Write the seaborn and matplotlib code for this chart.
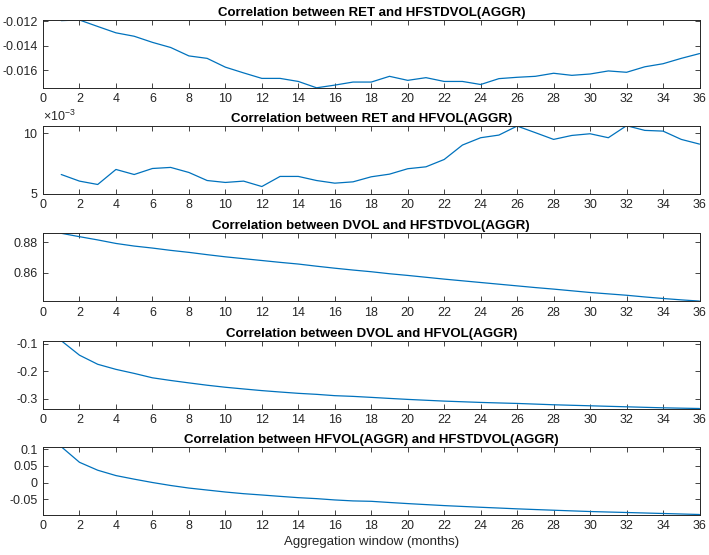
import matplotlib
matplotlib.use("Agg")
import matplotlib.pyplot as plt
import pandas as pd
import seaborn as sns
from matplotlib.ticker import FixedLocator, FuncFormatter

# Aggregation window (months)
months = list(range(1, 37))

# Correlation between RET and HFSTDVOL(AGGR)
ret_hfstdvol = [-0.01194, -0.01189, -0.01242, -0.01294, -0.01322, -0.01372,
                -0.01414, -0.01483, -0.01503, -0.01575, -0.01622, -0.01667,
                -0.01667, -0.01692, -0.01744, -0.01722, -0.01697, -0.01697,
                -0.01650, -0.01683, -0.01661, -0.01692, -0.01692, -0.01717,
                -0.01669, -0.01658, -0.01650, -0.01625, -0.01642, -0.01631,
                -0.01606, -0.01617, -0.01572, -0.01547, -0.01503, -0.01464]

# Correlation between RET and HFVOL(AGGR)
ret_hfvol = [0.00658, 0.00603, 0.00575, 0.00700, 0.00658, 0.00708,
             0.00717, 0.00675, 0.00608, 0.00592, 0.00603, 0.00558,
             0.00642, 0.00642, 0.00608, 0.00586, 0.00597, 0.00639,
             0.00661, 0.00706, 0.00722, 0.00783, 0.00903, 0.00964,
             0.00986, 0.01061, 0.01006, 0.00950, 0.00983, 0.00997,
             0.00964, 0.01064, 0.01025, 0.01019, 0.00950, 0.00911]

# Correlation between DVOL and HFSTDVOL(AGGR)
dvol_hfstdvol = [0.8857, 0.8835, 0.8814, 0.8791, 0.8774, 0.8761,
                 0.8746, 0.8733, 0.8718, 0.8704, 0.8692, 0.8680,
                 0.8668, 0.8657, 0.8643, 0.8630, 0.8618, 0.8607,
                 0.8594, 0.8583, 0.8571, 0.8559, 0.8548, 0.8537,
                 0.8526, 0.8515, 0.8504, 0.8494, 0.8483, 0.8472,
                 0.8463, 0.8454, 0.8443, 0.8433, 0.8424, 0.8416]

# Correlation between DVOL and HFVOL(AGGR)
dvol_hfvol = [-0.0890, -0.1417, -0.1748, -0.1933, -0.2080, -0.2240,
              -0.2337, -0.2425, -0.2510, -0.2584, -0.2646, -0.2706,
              -0.2757, -0.2805, -0.2842, -0.2890, -0.2916, -0.2952,
              -0.2990, -0.3026, -0.3057, -0.3088, -0.3112, -0.3136,
              -0.3155, -0.3173, -0.3197, -0.3221, -0.3240, -0.3258,
              -0.3277, -0.3295, -0.3314, -0.3332, -0.3345, -0.3357]

# Correlation between HFVOL(AGGR) and HFSTDVOL(AGGR)
hfvol_hfstdvol = [0.1070, 0.0604, 0.0367, 0.0207, 0.0100, 0.0000,
                  -0.0089, -0.0166, -0.0225, -0.0284, -0.0334, -0.0373,
                  -0.0414, -0.0453, -0.0482, -0.0521, -0.0550, -0.0562,
                  -0.0597, -0.0630, -0.0660, -0.0690, -0.0715, -0.0740,
                  -0.0763, -0.0787, -0.0808, -0.0828, -0.0848, -0.0867,
                  -0.0882, -0.0896, -0.0911, -0.0926, -0.0941, -0.0956]

titles = ["Correlation between RET and HFSTDVOL(AGGR)",
          "Correlation between RET and HFVOL(AGGR)",
          "Correlation between DVOL and HFSTDVOL(AGGR)",
          "Correlation between DVOL and HFVOL(AGGR)",
          "Correlation between HFVOL(AGGR) and HFSTDVOL(AGGR)"]
series = [ret_hfstdvol, ret_hfvol, dvol_hfstdvol, dvol_hfvol, hfvol_hfstdvol]
ytick_values = [[-0.016, -0.014, -0.012],
                [0.005, 0.010],
                [0.86, 0.88],
                [-0.3, -0.2, -0.1],
                [-0.05, 0, 0.05, 0.1]]
ytick_labels = [["-0.016", "-0.014", "-0.012"],
                ["5", "10"],
                ["0.86", "0.88"],
                ["-0.3", "-0.2", "-0.1"],
                ["-0.05", "0", "0.05", "0.1"]]
xtick_values = list(range(0, 37, 2))

sns.set_style("ticks")
plt.rcParams["font.family"] = ["Liberation Sans", "DejaVu Sans"]
plt.rcParams["axes.unicode_minus"] = False

line_color = "#0072BD"
axis_color = "#262626"

W, H = 709, 555
fig = plt.figure(figsize=(W / 100, H / 100), dpi=100)

left_px, right_px = 43, 699.5
tops_px = [20, 125.7, 233.3, 340.7, 446.7]
height_px = 67.8

for i, (title, values) in enumerate(zip(titles, series)):
    top = tops_px[i]
    ax = fig.add_axes([left_px / W, 1 - (top + height_px) / H,
                       (right_px - left_px) / W, height_px / H])
    df = pd.DataFrame({"month": months, "corr": values})
    sns.lineplot(data=df, x="month", y="corr", ax=ax, color=line_color,
                 linewidth=0.9)
    ax.set_xlim(0, 36)
    lo, hi = min(values), max(values)
    if i == 1:
        lo = 0.005
    ax.set_ylim(lo, hi)
    ax.xaxis.set_major_locator(FixedLocator(xtick_values))
    ax.set_xticklabels([str(v) for v in xtick_values])
    ax.yaxis.set_major_locator(FixedLocator(ytick_values[i]))
    ax.set_yticklabels(ytick_labels[i])
    ax.set_xlabel("")
    ax.set_ylabel("")
    ax.tick_params(direction="in", top=True, right=True, length=3.5,
                   width=0.6, color=axis_color, labelcolor=axis_color,
                   labelsize=9, pad=4)
    for s in ax.spines.values():
        s.set_visible(True)
        s.set_color(axis_color)
        s.set_linewidth(0.7)
    ax.set_title(title, fontsize=9.5, fontweight="bold", color="black",
                 pad=3)
    if i == 1:
        ax.text(0.0, 1.02, r"$\mathregular{\times10^{-3}}$",
                transform=ax.transAxes, fontsize=9, color=axis_color,
                ha="left", va="bottom")
    if i == 4:
        ax.set_xlabel("Aggregation window (months)", fontsize=9.5,
                      color=axis_color, labelpad=3)

fig.savefig("out.png", dpi=100)
